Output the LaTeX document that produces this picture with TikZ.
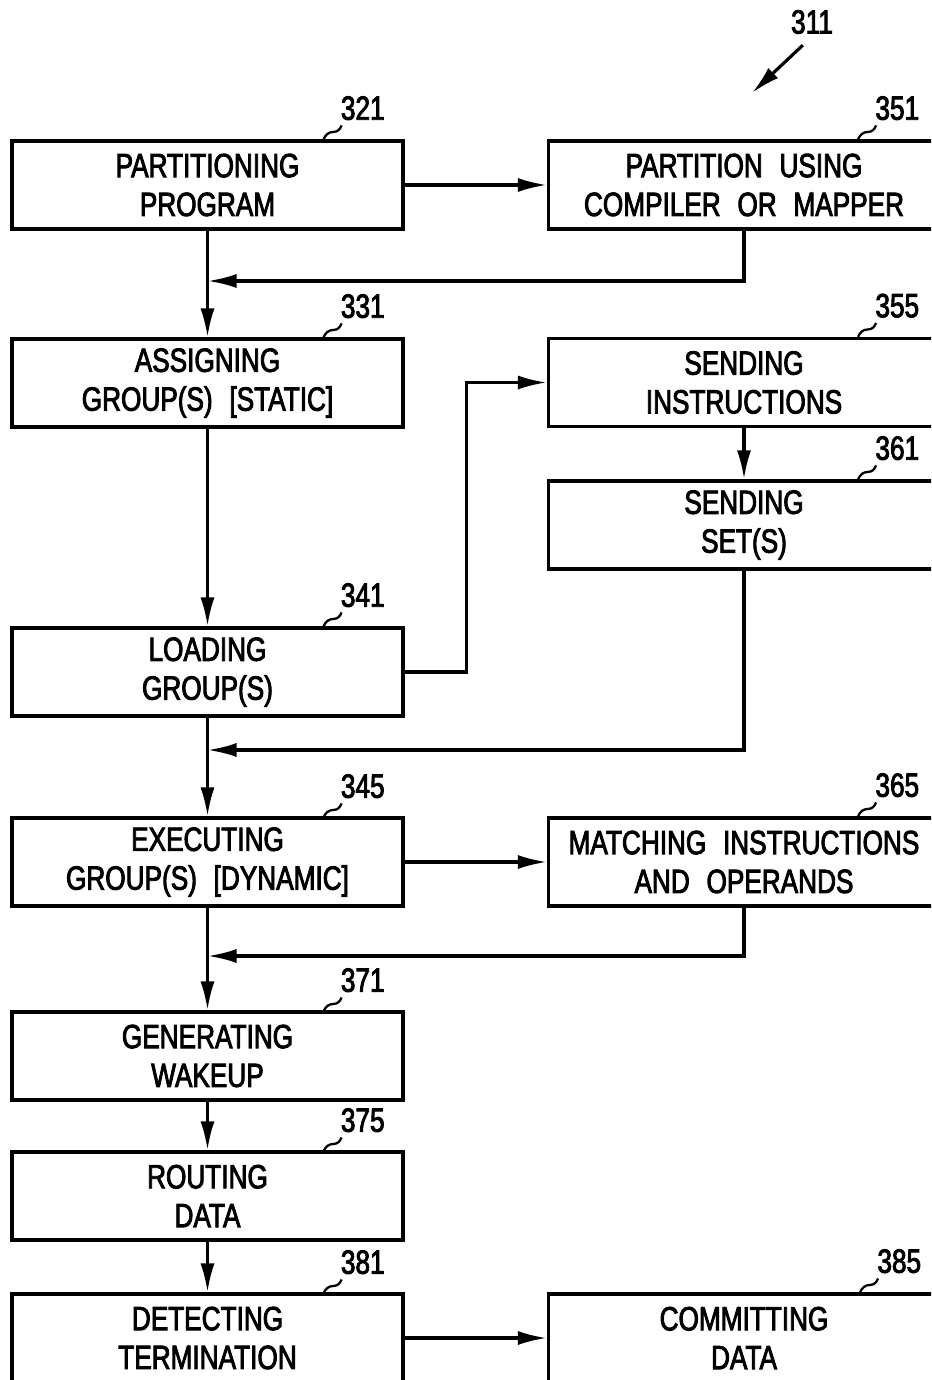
\documentclass[tikz,border=0pt]{standalone}
\usepackage{fontspec}
\setmainfont{Liberation Sans}[FakeStretch=0.78,WordSpace=2.3,FakeBold=2.5]
\usetikzlibrary{arrows.meta}

\tikzset{
  box/.style={draw, line width=1.8pt, minimum width=7.82cm, minimum height=1.76cm,
    align=center, inner sep=0pt},
  flow/.style={line width=1.8pt, -{Latex[length=0.58cm,width=0.28cm]}},
  num/.style={inner sep=0pt, anchor=south west},
  lead/.style={line width=1.3pt}
}

\begin{document}
\begin{tikzpicture}[font=\fontsize{19.1}{22.1}\selectfont]
    \path[use as bounding box, clip] (0,0) rectangle (18.62,-27.6);

    % left column
    \node[box] (p321) at (4.15,-3.70) {PARTITIONING\\PROGRAM};
    \node[box] (p331) at (4.15,-7.66) {ASSIGNING\\GROUP(S) [STATIC]};
    \node[box] (p341) at (4.15,-13.44) {LOADING\\GROUP(S)};
    \node[box] (p345) at (4.15,-17.24) {EXECUTING\\GROUP(S) [DYNAMIC]};
    \node[box] (p371) at (4.15,-21.12) {GENERATING\\WAKEUP};
    \node[box] (p375) at (4.15,-23.92) {ROUTING\\DATA};
    \node[box] (p381) at (4.15,-26.76) {DETECTING\\TERMINATION};

    % right column
    \node[box] (p351) at (14.88,-3.70) {PARTITION USING\\COMPILER OR MAPPER};
    \node[box] (p355) at (14.88,-7.65) {SENDING\\INSTRUCTIONS};
    \node[box] (p361) at (14.88,-10.50) {SENDING\\SET(S)};
    \node[box] (p365) at (14.88,-17.24) {MATCHING INSTRUCTIONS\\AND OPERANDS};
    \node[box] (p385) at (14.88,-26.76) {COMMITTING\\DATA};

    % reference numerals
    \node[num] (n321) at ([shift={(-1.28,0.38)}]p321.north east) {321};
    \node[num] (n331) at ([shift={(-1.28,0.38)}]p331.north east) {331};
    \node[num] (n341) at ([shift={(-1.28,0.38)}]p341.north east) {341};
    \node[num] (n345) at ([shift={(-1.28,0.36)}]p345.north east) {345};
    \node[num] (n371) at ([shift={(-1.28,0.36)}]p371.north east) {371};
    \node[num] (n375) at ([shift={(-1.28,0.36)}]p375.north east) {375};
    \node[num] (n381) at ([shift={(-1.28,0.36)}]p381.north east) {381};
    \node[num] (n351) at ([shift={(-1.32,0.38)}]p351.north east) {351};
    \node[num] (n355) at ([shift={(-1.32,0.38)}]p355.north east) {355};
    \node[num] (n361) at ([shift={(-1.32,0.38)}]p361.north east) {361};
    \node[num] (n365) at ([shift={(-1.32,0.38)}]p365.north east) {365};
    \node[num] (n385) at ([shift={(-1.28,0.38)}]p385.north east) {385};
    \foreach \n in {n321,n331,n341,n345,n371,n375,n381,n351,n355,n361,n365,n385}
        \draw[lead] ([shift={(0.02,-0.1)}]\n.south west)
        to[out=250,in=0] ++(-0.16,-0.13) to[out=180,in=70] ++(-0.2,-0.15);

    \node[num, anchor=center] (n311) at (16.24,-0.44) {311};
    \coordinate (t311) at (15.04,-1.86);
    \draw[flow] ([shift={(0.24,-0.22)}]n311.south west) -- (t311);

    % junctions on the main line
    \coordinate (j1) at (4.15,-5.62);
    \coordinate (j2) at (4.15,-15.0);
    \coordinate (j3) at (4.15,-19.12);

    \draw[flow] (p321.east) -- (p351.west);
    \draw[flow] (p351.south) |- (j1);
    \draw[flow] (p321.south) -- (p331.north);
    \draw[flow] (p331.south) -- (p341.north);
    \draw[flow] (p341.east) -- ++(1.24,0) |- (p355.west);
    \draw[flow] (p355.south) -- (p361.north);
    \draw[flow] (p361.south) |- (j2);
    \draw[flow] (p341.south) -- (p345.north);
    \draw[flow] (p345.east) -- (p365.west);
    \draw[flow] (p365.south) |- (j3);
    \draw[flow] (p345.south) -- (p371.north);
    \draw[flow] (p371.south) -- (p375.north);
    \draw[flow] (p375.south) -- (p381.north);
    \draw[flow] (p381.east) -- (p385.west);
\end{tikzpicture}
\end{document}
